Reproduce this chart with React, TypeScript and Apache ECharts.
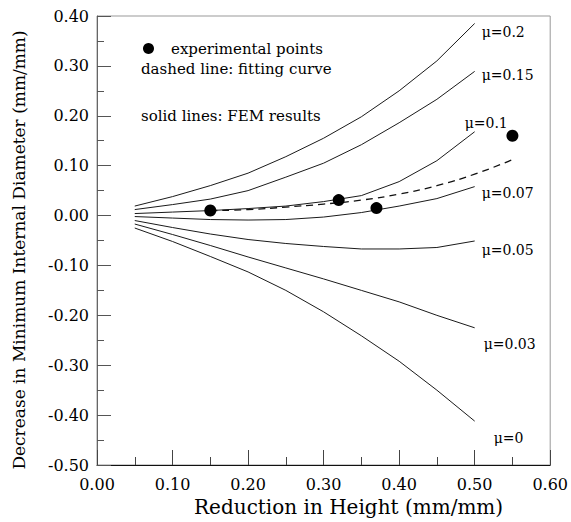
import React, { useEffect, useRef } from "react";
import * as echarts from "echarts";

const xVals = [0.05, 0.1, 0.15, 0.2, 0.25, 0.3, 0.35, 0.4, 0.45, 0.5];
const mu02 = [0.019, 0.038, 0.06, 0.085, 0.118, 0.155, 0.198, 0.25, 0.31, 0.385];
const mu015 = [0.012, 0.022, 0.033, 0.05, 0.077, 0.105, 0.142, 0.186, 0.233, 0.289];
const mu01 = [0.004, 0.007, 0.01, 0.014, 0.019, 0.028, 0.04, 0.068, 0.11, 0.168];
const mu007 = [-0.002, -0.005, -0.008, -0.009, -0.008, -0.003, 0.006, 0.019, 0.034, 0.058];
const mu005 = [-0.01, -0.024, -0.037, -0.048, -0.056, -0.062, -0.067, -0.067, -0.064, -0.051];
const mu003 = [-0.017, -0.038, -0.06, -0.083, -0.105, -0.127, -0.15, -0.173, -0.2, -0.225];
const mu0 = [-0.025, -0.052, -0.082, -0.113, -0.15, -0.193, -0.241, -0.292, -0.35, -0.412];

const fitX = [0.15, 0.2, 0.25, 0.3, 0.35, 0.4, 0.45, 0.5, 0.55];
const fitY = [0.01, 0.012, 0.017, 0.023, 0.031, 0.043, 0.06, 0.083, 0.112];

const expX = [0.15, 0.32, 0.37, 0.55];
const expY = [0.01, 0.031, 0.015, 0.16];

const curveNames = ["μ=0.2", "μ=0.15", "μ=0.1", "μ=0.07", "μ=0.05", "μ=0.03", "μ=0"];
const curveValues = [mu02, mu015, mu01, mu007, mu005, mu003, mu0];
const labelOffsets: [number, number][] = [
  [0, 9],
  [0, 4],
  [-17, -9],
  [0, 6],
  [0, 9],
  [2, 16],
  [12, 17],
];

const FONT = "DejaVu Serif";
const INK = "#000";

export default function App() {
  const ref = useRef<HTMLDivElement>(null);
  useEffect(() => {
    document.body.style.margin = "0";
    const chart = echarts.init(ref.current!, null, { renderer: "svg" });
    const zip = (xs: number[], ys: number[]) => xs.map((x, i) => [x, ys[i]]);
    const curveSeries = curveValues.map((vals, i) => ({
      name: curveNames[i],
      type: "line",
      data: zip(xVals, vals),
      showSymbol: false,
      symbol: "none",
      lineStyle: { color: "#1a1a1a", width: 1 },
      endLabel: {
        show: true,
        formatter: curveNames[i],
        distance: 7,
        offset: labelOffsets[i],
        fontFamily: FONT,
        fontSize: 14,
        color: INK,
      },
      z: 2,
    }));
    chart.setOption({
      animation: false,
      backgroundColor: "#fff",
      grid: {
        left: 97,
        top: 16,
        right: 17,
        bottom: 54,
        show: true,
        borderColor: "#999",
        borderWidth: 1,
      },
      legend: {
        data: [{ name: "experimental points", icon: "circle" }],
        left: 138,
        top: 36,
        itemWidth: 11,
        itemHeight: 11,
        textStyle: { fontFamily: FONT, fontSize: 15, color: INK, padding: [0, 0, 0, 12] },
        selectedMode: false,
      },
      xAxis: {
        type: "value",
        min: 0,
        max: 0.6,
        interval: 0.1,
        name: "Reduction in Height (mm/mm)",
        nameLocation: "middle",
        nameGap: 32,
        nameTextStyle: { fontFamily: FONT, fontSize: 20, color: INK, padding: [0, 0, 0, 50] },
        axisLine: { show: true, onZero: false, lineStyle: { color: "#111", width: 1 } },
        axisTick: { show: true, inside: true, length: 15, lineStyle: { color: "#444" } },
        minorTick: { show: true, splitNumber: 2, length: 8, lineStyle: { color: "#444" } },
        splitLine: { show: false },
        axisLabel: {
          formatter: (v: number) => v.toFixed(2),
          fontFamily: FONT,
          fontSize: 16,
          color: INK,
          margin: 11,
        },
      },
      yAxis: {
        type: "value",
        min: -0.5,
        max: 0.4,
        interval: 0.1,
        name: "Decrease in Minimum Internal Diameter (mm/mm)",
        nameLocation: "middle",
        nameGap: 70,
        nameTextStyle: { fontFamily: FONT, fontSize: 17, color: INK, padding: [0, 19, 0, 0] },
        axisLine: { show: true, onZero: false, lineStyle: { color: "#666", width: 1 } },
        axisTick: { show: true, inside: true, length: 14, lineStyle: { color: "#555" } },
        minorTick: { show: true, splitNumber: 2, length: 7, lineStyle: { color: "#555" } },
        splitLine: { show: false },
        axisLabel: {
          formatter: (v: number) => v.toFixed(2),
          fontFamily: FONT,
          fontSize: 16,
          color: INK,
          margin: 8,
        },
      },
      graphic: [
        {
          type: "text",
          left: 141,
          top: 61,
          style: { text: "dashed line: fitting curve", font: `15px "${FONT}"`, fill: INK },
        },
        {
          type: "text",
          left: 141,
          top: 108,
          style: { text: "solid lines: FEM results", font: `15px "${FONT}"`, fill: INK },
        },
      ],
      series: [
        ...curveSeries,
        {
          name: "fitting curve",
          type: "line",
          data: zip(fitX, fitY),
          smooth: true,
          showSymbol: false,
          symbol: "none",
          lineStyle: { color: "#111", width: 1.3, type: [7, 5] },
          z: 3,
        },
        {
          name: "experimental points",
          type: "scatter",
          data: zip(expX, expY),
          symbol: "circle",
          symbolSize: 12,
          itemStyle: { color: "#000", opacity: 1 },
          z: 4,
        },
      ],
    });
    return () => chart.dispose();
  }, []);
  return <div ref={ref} style={{ width: 571, height: 522 }} />;
}
